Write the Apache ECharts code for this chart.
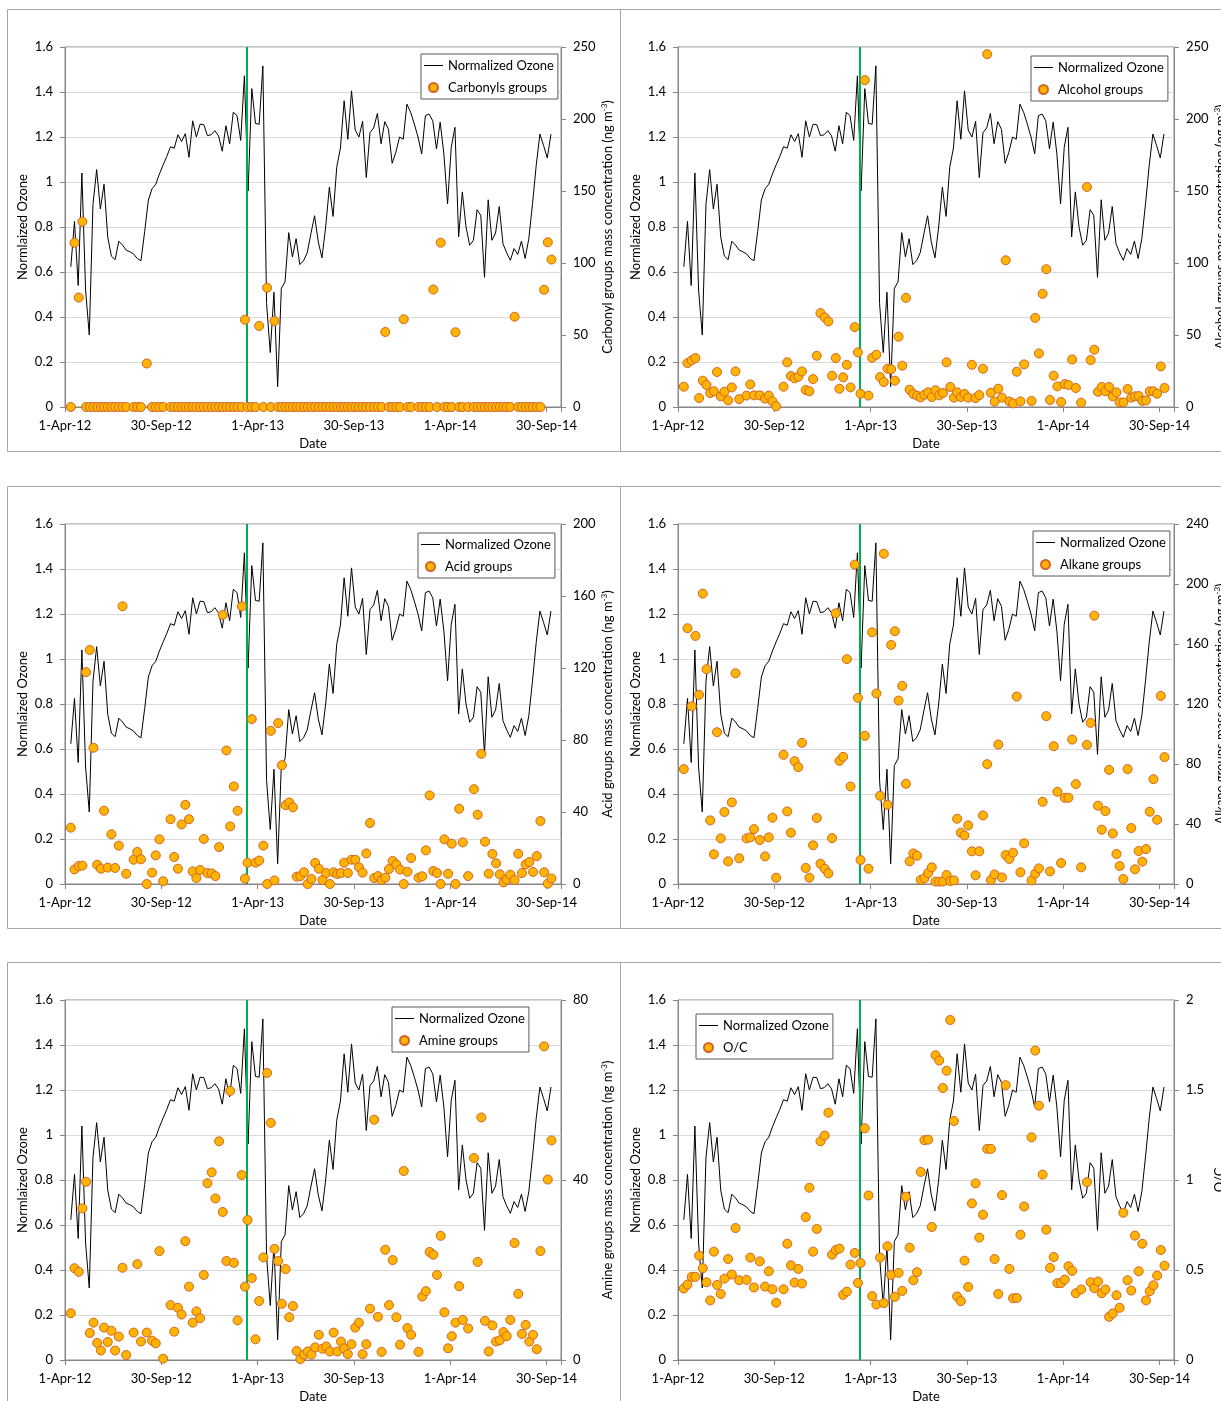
<!DOCTYPE html>
<html>
<head>
<meta charset="utf-8">
<title>Normalized ozone and organic functional groups</title>
<script src="https://cdn.jsdelivr.net/npm/echarts@6/dist/echarts.min.js"></script>
<style>
  html, body { margin: 0; padding: 0; background: #fff; }
  #main { width: 1221px; height: 1401px; }
</style>
</head>
<body>
<div id="main"></div>
<script>
// x values are days counted from 1-Apr-12
const dateTicks = ['1-Apr-12', '30-Sep-12', '1-Apr-13', '30-Sep-13', '1-Apr-14', '30-Sep-14'];
const tickStep = 182.5;
const dayMax = 940;
const changeDay = 345; // green marker line

const ozoneDays = [
  11, 18, 25, 32, 39, 46, 53, 60, 67, 74, 81, 88, 95, 102, 109, 116, 123, 130, 137, 144,
  151, 158, 165, 172, 179, 186, 193, 200, 207, 214, 221, 228, 235, 242, 249, 256, 263, 270, 277, 284,
  291, 298, 305, 312, 319, 326, 333, 340, 347, 354, 361, 368, 375, 382, 389, 396, 403, 410, 417, 424,
  431, 438, 445, 452, 459, 466, 473, 480, 487, 494, 501, 508, 515, 522, 529, 536, 543, 550, 557, 564,
  571, 578, 585, 592, 599, 606, 613, 620, 627, 634, 641, 648, 655, 662, 669, 676, 683, 690, 697, 704,
  711, 718, 725, 732, 739, 746, 753, 760, 767, 774, 781, 788, 795, 802, 809, 816, 823, 830, 837, 844,
  851, 858, 865, 872, 879, 886, 893, 900, 907, 914, 921
];
const ozone = [
  0.623, 0.825, 0.54, 1.04, 0.52, 0.32, 0.90, 1.055, 0.88, 0.99,
  0.755, 0.67, 0.655, 0.737, 0.72, 0.697, 0.69, 0.68, 0.66, 0.65,
  0.78, 0.92, 0.97, 0.99, 1.036, 1.076, 1.114, 1.157, 1.15, 1.21,
  1.18, 1.215, 1.11, 1.272, 1.2, 1.257, 1.255, 1.206, 1.21, 1.228,
  1.205, 1.137, 1.25, 1.17, 1.31, 1.295, 1.185, 1.472, 0.96, 1.415,
  1.26, 1.257, 1.516, 0.46, 0.242, 0.51, 0.09, 0.527, 0.556, 0.775,
  0.667, 0.748, 0.633, 0.65, 0.685, 0.77, 0.85, 0.734,
  0.663, 0.8, 0.977, 0.847, 1.066, 1.151, 1.361, 1.19, 1.405, 1.231,
  1.2, 1.27, 1.02, 1.22, 1.24, 1.305, 1.17, 1.268, 1.234, 1.083,
  1.132, 1.2, 1.19, 1.346, 1.31, 1.258, 1.2, 1.125, 1.295, 1.302,
  1.272, 1.147, 1.266, 1.125, 0.903, 1.154, 1.243, 0.756, 0.956, 0.8,
  0.719, 0.741, 0.877, 0.852, 0.576, 0.921, 0.741, 0.773, 0.891, 0.726,
  0.685, 0.652, 0.704, 0.678, 0.737, 0.66, 0.748, 0.903, 1.073, 1.213,
  1.162, 1.107, 1.213
];

const sampleDays = [
  11, 18, 26, 33, 40, 47, 54, 61, 68, 74,
  81, 88, 95, 102, 109, 116, 130, 137, 144, 155,
  165, 172, 179, 186, 200, 207, 214, 221, 228, 235,
  242, 249, 256, 263, 270, 278, 285, 292, 299, 306,
  313, 320, 327, 335, 341, 346, 354, 361, 368, 376,
  383, 390, 397, 404, 411, 418, 425, 432, 439, 446,
  453, 460, 467, 474, 481, 488, 495, 502, 509, 516,
  523, 529, 536, 543, 550, 557, 564, 571, 578, 586,
  593, 600, 607, 614, 621, 628, 635, 642, 649, 656,
  670, 677, 684, 691, 698, 705, 712, 719, 726, 733,
  740, 747, 754, 764, 775, 782, 789, 796, 803, 810,
  817, 824, 831, 837, 844, 852, 859, 866, 873, 880,
  887, 894, 901, 908, 915, 922
];

const carbonyl = [
  0, 114, 76, 128.7, 0, 0, 0, 0, 0, 0,
  0, 0, 0, 0, 0, 0, 0, 0, 0, 30.2,
  0, 0, 0, 0, 0, 0, 0, 0, 0, 0,
  0, 0, 0, 0, 0, 0, 0, 0, 0, 0,
  0, 0, 0, 0, 60.6, 0, 0, 0, 56.3, 0,
  82.8, 0, 59.7, 0, 0, 0, 0, 0, 0, 0,
  0, 0, 0, 0, 0, 0, 0, 0, 0, 0,
  0, 0, 0, 0, 0, 0, 0, 0, 0, 0,
  0, 0, 52.1, 0, 0, 0, 0, 60.9, 0, 0,
  0, 0, 0, 0, 81.6, 0, 114.1, 0, 0, 0,
  51.9, 0, 0, 0, 0, 0, 0, 0, 0, 0,
  0, 0, 0, 0, 0, 62.7, 0, 0, 0, 0,
  0, 0, 0, 81.4, 114.4, 102.4
];
const alcohol = [
  14.1, 30.5, 32.4, 34, 6.2, 18.3, 15.3, 9.7, 10.9, 24.3,
  7.4, 10.6, 4.6, 13.6, 24.7, 5.5, 7.9, 15.7, 8.1, 8.1,
  5.8, 7.9, 3.9, 0.5, 14.1, 31, 21.5, 19.9, 21, 24.7,
  11.8, 10.9, 19.4, 35.6, 65.2, 62.2, 59.4, 21.7, 34, 12.7,
  20.6, 29.3, 13.6, 55.5, 37.9, 9.2, 227, 7.9, 34.2, 36.3,
  20.8, 17.3, 26.6, 26.3, 18.3, 48.8, 28.7, 75.8, 12, 9,
  7.9, 6.7, 8.6, 10.2, 6.9, 11.6, 8.1, 9.7, 31, 13.9,
  6.5, 10.2, 6.9, 9, 6.5, 29.3, 6.2, 8.3, 26.6, 245,
  9.9, 3.7, 12.7, 6.5, 101.9, 3.9, 2.5, 24.5, 3.9, 29.6,
  4.2, 61.9, 37.2, 78.6, 95.7, 4.9, 21.7, 14.3, 3.5, 15.9,
  15.3, 33, 13.2, 3, 152.8, 32.6, 39.8, 10.6, 13.9, 10.9,
  13.9, 7.4, 10.2, 3.2, 3.2, 12.5, 6.5, 7.4, 7.6, 4.2,
  4.6, 10.9, 10.9, 9.2, 28.2, 13.2
];
const acid = [
  31.3, 8.1, 10, 10.2, 117.7, 130, 75.7, 10.7, 8.5, 40.7,
  9.1, 27.6, 8.9, 21.3, 154.3, 5.7, 13.5, 17.8, 13.7, 0,
  6.3, 15.9, 24.8, 1.5, 36, 15, 8.5, 33.1, 44, 36,
  7, 3.3, 7.8, 25, 6.1, 5.9, 4.4, 20.5, 149.5, 74.2,
  32, 54.2, 40.7, 154.3, 3, 11.8, 91.6, 11.8, 13, 21.3,
  0, 85.1, 2, 89.4, 66, 43.8, 45.3, 42.6, 4.1, 4.4,
  6.5, 0, 2.8, 11.7, 8.5, 2.2, 6.1, 0, 6.5, 5.6,
  6.1, 11.8, 6.1, 13.5, 13.5, 9.3, 6.3, 17, 33.9, 3.3,
  4.4, 2.2, 3.5, 8.3, 12.8, 10.9, 8, 0, 6.8, 14.4,
  3.5, 4.3, 18.7, 49.2, 7.2, 6.1, 0, 24.8, 5.7, 22.4,
  0, 41.8, 23.1, 4.4, 52.7, 38.5, 72.3, 23.5, 5.7, 16.7,
  11.5, 5.4, 0.9, 2.4, 5.2, 2.2, 16.8, 6.1, 10.9, 12.2,
  6.7, 15.5, 35, 6.5, 0.2, 3.1
];
const alkane = [
  76.6, 170.5, 118.5, 165.4, 126.1, 193.6, 143.2, 42.4, 19.8, 101.2,
  30.4, 48, 15.1, 54.4, 140.5, 17.1, 30.4, 31.1, 36.6, 29.3,
  18.4, 31.1, 44.2, 4.2, 86.1, 48.4, 34.2, 81.9, 77.9, 94.1,
  10.7, 4.2, 25.8, 44, 13.5, 10.2, 7.1, 30.6, 180.5, 82.1,
  84.8, 149.9, 65, 212.9, 124.1, 16, 98.8, 10.2, 167.8, 127,
  58.8, 220.2, 52.8, 159.4, 168.5, 122.3, 132.1, 66.8, 15.1, 20.4,
  18.9, 2.7, 3.8, 7.3, 11.1, 1.6, 1.6, 1.6, 6, 2,
  2.4, 43.5, 34.2, 32.4, 39.1, 21.8, 5.8, 21.8, 45.7, 79.9,
  2.7, 6.4, 93, 4.4, 19.3, 16.7, 20.9, 125, 7.8, 27.1,
  2.4, 6.9, 10.4, 54.8, 111.9, 8.4, 91.9, 61.5, 14, 57.5,
  57.5, 96.3, 66.6, 11.1, 92.8, 107.4, 178.9, 52.2, 36.2, 48.6,
  76.1, 33.7, 20, 12, 3.3, 76.6, 37.3, 9.8, 22, 14.9,
  23.3, 48.2, 69.9, 42.8, 125.4, 84.6
];
const amine = [
  10.4, 20.4, 19.6, 33.7, 39.6, 6, 8.3, 3.8, 2.1, 7.2,
  4, 6.5, 2.1, 5.2, 20.5, 1.1, 6.1, 21.3, 4.1, 6.1,
  4.3, 3.7, 24.2, 0.3, 12.2, 6.3, 11.6, 10.1, 26.4, 16.3,
  8.3, 10.8, 9.3, 18.9, 39.3, 41.7, 35.9, 48.6, 32.9, 22,
  59.8, 21.6, 8.8, 41.1, 16.3, 31.1, 18.2, 4.6, 13.1, 22.8,
  63.8, 52.7, 24.7, 22, 12.5, 20.2, 9.5, 12, 2, 0.2,
  1.2, 1.9, 1.2, 2.8, 5.6, 2.5, 3, 1.9, 6.1, 1.9,
  4.1, 2.6, 1.3, 3.5, 7.2, 8.3, 1.3, 3.5, 11.4, 53.4,
  9.6, 1.8, 24.5, 12.2, 22.2, 9.5, 3.4, 42, 7.1, 5.6,
  1.8, 14.1, 15.3, 24, 23.4, 18.9, 27.6, 10.6, 2.6, 5.3,
  8.3, 16.4, 8.9, 7, 44.9, 21.8, 53.9, 8.7, 1.9, 7.7,
  4.1, 4.4, 6.2, 5.3, 8.9, 26, 14.7, 5.8, 7.8, 4.1,
  5.6, 2.4, 24.2, 69.7, 40.1, 48.8
];
const oc = [
  0.397, 0.419, 0.462, 0.462, 0.58, 0.51, 0.432, 0.331, 0.602, 0.417,
  0.367, 0.452, 0.561, 0.475, 0.733, 0.443, 0.445, 0.569, 0.403, 0.548,
  0.408, 0.493, 0.393, 0.318, 0.393, 0.646, 0.526, 0.43, 0.506, 0.425,
  0.794, 0.957, 0.602, 0.728, 1.215, 1.247, 1.374, 0.585, 0.611, 0.619,
  0.362, 0.38, 0.53, 0.595, 0.428, 0.539, 1.287, 0.914, 0.355, 0.308,
  0.569, 0.316, 0.632, 0.473, 0.351, 0.484, 0.384, 0.907, 0.624, 0.443,
  0.488, 1.045, 1.221, 1.224, 0.739, 1.693, 1.664, 1.511, 1.607, 1.889,
  1.328, 0.353, 0.327, 0.552, 0.406, 0.87, 0.981, 0.68, 0.807, 1.173,
  1.173, 0.561, 0.367, 0.916, 1.527, 0.506, 0.343, 0.345, 0.696, 0.853,
  1.237, 1.719, 1.413, 1.03, 0.724, 0.512, 0.572, 0.427, 0.427, 0.447,
  0.521, 0.495, 0.371, 0.392, 0.988, 0.432, 0.399, 0.436, 0.371, 0.392,
  0.24, 0.259, 0.36, 0.29, 0.818, 0.443, 0.386, 0.691, 0.493, 0.646,
  0.331, 0.382, 0.415, 0.469, 0.611, 0.524
];

const font = 'Lato, "Liberation Sans", sans-serif';
const axisGray = '#868686';

// one entry per small chart, left to right, top to bottom
const panels = [
  { label: 'Carbonyls groups', axisName: 'Carbonyl groups mass concentration (ng m{sup|-3})', values: carbonyl, max: 250, step: 50, x: 65, y: 47, lx: 421, ly: 54 },
  { label: 'Alcohol groups', axisName: 'Alcohol groups mass concentration (ng m{sup|-3})', values: alcohol, max: 250, step: 50, x: 678, y: 47, lx: 1031, ly: 56 },
  { label: 'Acid groups', axisName: 'Acid groups mass concentration (ng m{sup|-3})', values: acid, max: 200, step: 40, x: 65, y: 524, lx: 418, ly: 533 },
  { label: 'Alkane groups', axisName: 'Alkane groups mass concentration (ng m{sup|-3})', values: alkane, max: 240, step: 40, x: 678, y: 524, lx: 1033, ly: 531 },
  { label: 'Amine groups', axisName: 'Amine groups mass concentration (ng m{sup|-3})', values: amine, max: 80, step: 40, x: 65, y: 1000, lx: 392, ly: 1007 },
  { label: 'O/C', axisName: 'O/C', values: oc, max: 2, step: 0.5, x: 678, y: 1000, lx: 696, ly: 1014 }
];
const frames = [[7.5, 9.5], [620.5, 9.5], [7.5, 486.5], [620.5, 486.5], [7.5, 962.5], [620.5, 962.5]];

const pair = (xs, ys) => xs.map((d, i) => [d, ys[i]]);
const dateLabel = v => {
  const k = Math.round(v / tickStep);
  return Math.abs(v - k * tickStep) < 0.01 && k < dateTicks.length ? dateTicks[k] : '';
};
const labelStyle = { fontFamily: font, fontSize: 13, color: '#000' };
const lineIcon = 'path://M0,0L19,0L19,1L0,1Z';

const option = {
  animation: false,
  backgroundColor: '#fff',
  textStyle: { fontFamily: font },
  grid: [], xAxis: [], yAxis: [], legend: [], series: [],
  graphic: frames.map(f => ({
    type: 'rect', silent: true, z: 0,
    shape: { x: f[0], y: f[1], width: 613, height: 442 },
    style: { fill: null, stroke: '#a6a6a6', lineWidth: 1 }
  }))
};

panels.forEach((p, i) => {
  option.grid.push({
    left: p.x, top: p.y, width: 496, height: 360,
    show: true, borderColor: axisGray, borderWidth: 1, backgroundColor: 'transparent',
    outerBoundsMode: 'none'
  });
  option.xAxis.push({
    type: 'value', gridIndex: i, min: 0, max: dayMax, interval: tickStep,
    name: 'Date', nameLocation: 'middle', nameGap: 30, nameMoveOverlap: false,
    nameTextStyle: labelStyle,
    axisLine: { show: true, lineStyle: { color: axisGray } },
    axisTick: { show: true, length: 5, lineStyle: { color: axisGray } },
    axisLabel: Object.assign({ margin: 12, formatter: dateLabel, hideOverlap: false }, labelStyle),
    splitLine: { show: false }
  });
  option.yAxis.push({
    type: 'value', gridIndex: i, position: 'left', min: 0, max: 1.6, interval: 0.2,
    name: 'Normlaized Ozone', nameLocation: 'middle', nameGap: 36, nameRotate: 90, nameMoveOverlap: false,
    nameTextStyle: labelStyle,
    axisLine: { show: true, lineStyle: { color: axisGray } },
    axisTick: { show: true, length: 5, lineStyle: { color: axisGray } },
    axisLabel: Object.assign({ margin: 12 }, labelStyle),
    splitLine: { show: true, lineStyle: { color: '#d9d9d9', width: 1 } }
  });
  option.yAxis.push({
    type: 'value', gridIndex: i, position: 'right', min: 0, max: p.max, interval: p.step,
    name: p.axisName, nameLocation: 'middle', nameGap: 39, nameRotate: 90, nameMoveOverlap: false,
    nameTextStyle: Object.assign({
      rich: { sup: { fontFamily: font, fontSize: 8, color: '#000', verticalAlign: 'top', lineHeight: 15 } }
    }, labelStyle),
    axisLine: { show: true, lineStyle: { color: axisGray } },
    axisTick: { show: true, length: 5, lineStyle: { color: axisGray } },
    axisLabel: Object.assign({ margin: 12 }, labelStyle),
    splitLine: { show: false }
  });
  option.legend.push({
    left: p.lx, top: p.ly, orient: 'vertical',
    data: [{ name: 'Normalized Ozone', icon: lineIcon }, { name: p.label, icon: 'circle' }],
    itemWidth: 19, itemHeight: 9, itemGap: 9,
    padding: [5, 4, 5, 3],
    backgroundColor: '#fff', borderColor: '#595959', borderWidth: 1,
    selectedMode: false,
    textStyle: labelStyle
  });
  option.series.push({
    type: 'line', name: 'Normalized Ozone', xAxisIndex: i, yAxisIndex: 2 * i,
    data: pair(ozoneDays, ozone),
    symbol: 'none', z: 3,
    lineStyle: { color: '#000', width: 1 },
    itemStyle: { color: '#000' },
    markLine: {
      silent: true, symbol: ['none', 'none'], animation: false,
      label: { show: false },
      lineStyle: { color: '#00b050', width: 2, type: 'solid' },
      data: [{ xAxis: changeDay }]
    }
  });
  option.series.push({
    type: 'scatter', name: p.label, xAxisIndex: i, yAxisIndex: 2 * i + 1,
    data: pair(sampleDays, p.values),
    symbol: 'circle', symbolSize: 9, z: 5,
    itemStyle: { color: '#ffb400', borderColor: '#d2642a', borderWidth: 1, opacity: 1 }
  });
});

const chart = echarts.init(document.getElementById('main'), null, { renderer: 'canvas' });
chart.setOption(option);
</script>
</body>
</html>
